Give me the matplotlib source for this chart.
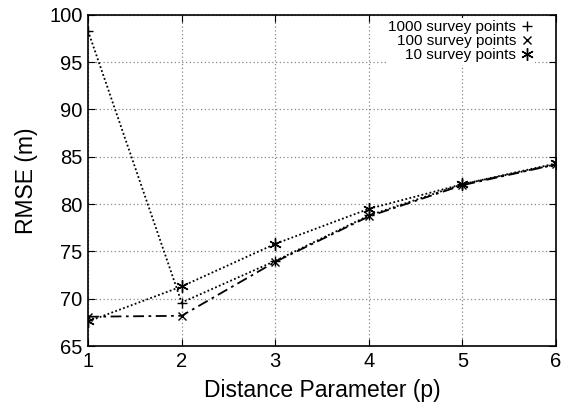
import matplotlib
matplotlib.use("Agg")
import matplotlib.pyplot as plt
from matplotlib.lines import Line2D

p = [1, 2, 3, 4, 5, 6]
rmse_1000 = [98.3, 69.6, 74.0, 78.8, 82.1, 84.2]
rmse_100 = [68.1, 68.2, 73.9, 78.7, 82.0, 84.2]
rmse_10 = [67.6, 71.3, 75.8, 79.5, 82.1, 84.3]
labels = ["1000 survey points", "100 survey points", "10 survey points"]

plt.rcParams['font.family'] = ['Liberation Sans', 'DejaVu Sans']

fig = plt.figure(figsize=(5.68, 4.12), dpi=100)
ax = fig.add_axes([0.155, 0.160, 0.824, 0.804])

ax.plot(p, rmse_1000, color='black', linestyle=(0, (1, 1.3)), linewidth=1.3,
        marker='+', markersize=7, markeredgewidth=1)
ax.plot(p, rmse_100, color='black', linestyle=(0, (6, 2.5, 1.5, 2.5)), linewidth=1.3,
        marker='x', markersize=6, markeredgewidth=1)
ax.plot(p, rmse_10, color='black', linestyle=(0, (1, 1.3)), linewidth=1.3,
        marker=(6, 2, 0), markersize=9, markeredgewidth=1)

ax.set_xlim(1, 6)
ax.set_ylim(65, 100)
ax.set_xticks(p)
ax.set_yticks(range(65, 101, 5))
ax.grid(True, color='#888888', linestyle=(0, (1, 2)), linewidth=0.9)
ax.tick_params(direction='in', top=True, right=True, labelsize=14.5, length=5, pad=4)
for s in ax.spines.values():
    s.set_linewidth(1.2)
ax.set_xlabel("Distance Parameter (p)", fontsize=16.5, labelpad=6)
ax.set_ylabel("RMSE (m)", fontsize=16.5, labelpad=8)

handles = [
    Line2D([], [], color='black', linestyle='none', marker='+', markersize=7, markeredgewidth=1),
    Line2D([], [], color='black', linestyle='none', marker='x', markersize=6, markeredgewidth=1),
    Line2D([], [], color='black', linestyle='none', marker=(6, 2, 0), markersize=9, markeredgewidth=1),
]
leg = ax.legend(handles, labels, loc='upper right', bbox_to_anchor=(0.955, 0.99),
                markerfirst=False, frameon=True,
                fontsize=11, handlelength=0.8, handletextpad=0.3, labelspacing=0.0,
                borderpad=0.15, borderaxespad=0.0, fancybox=False, edgecolor='none',
                facecolor='white', framealpha=1.0)
for t in leg.get_texts():
    t.set_ha('right')
leg._legend_box.align = 'right'

fig.savefig("out.png", dpi=100)
